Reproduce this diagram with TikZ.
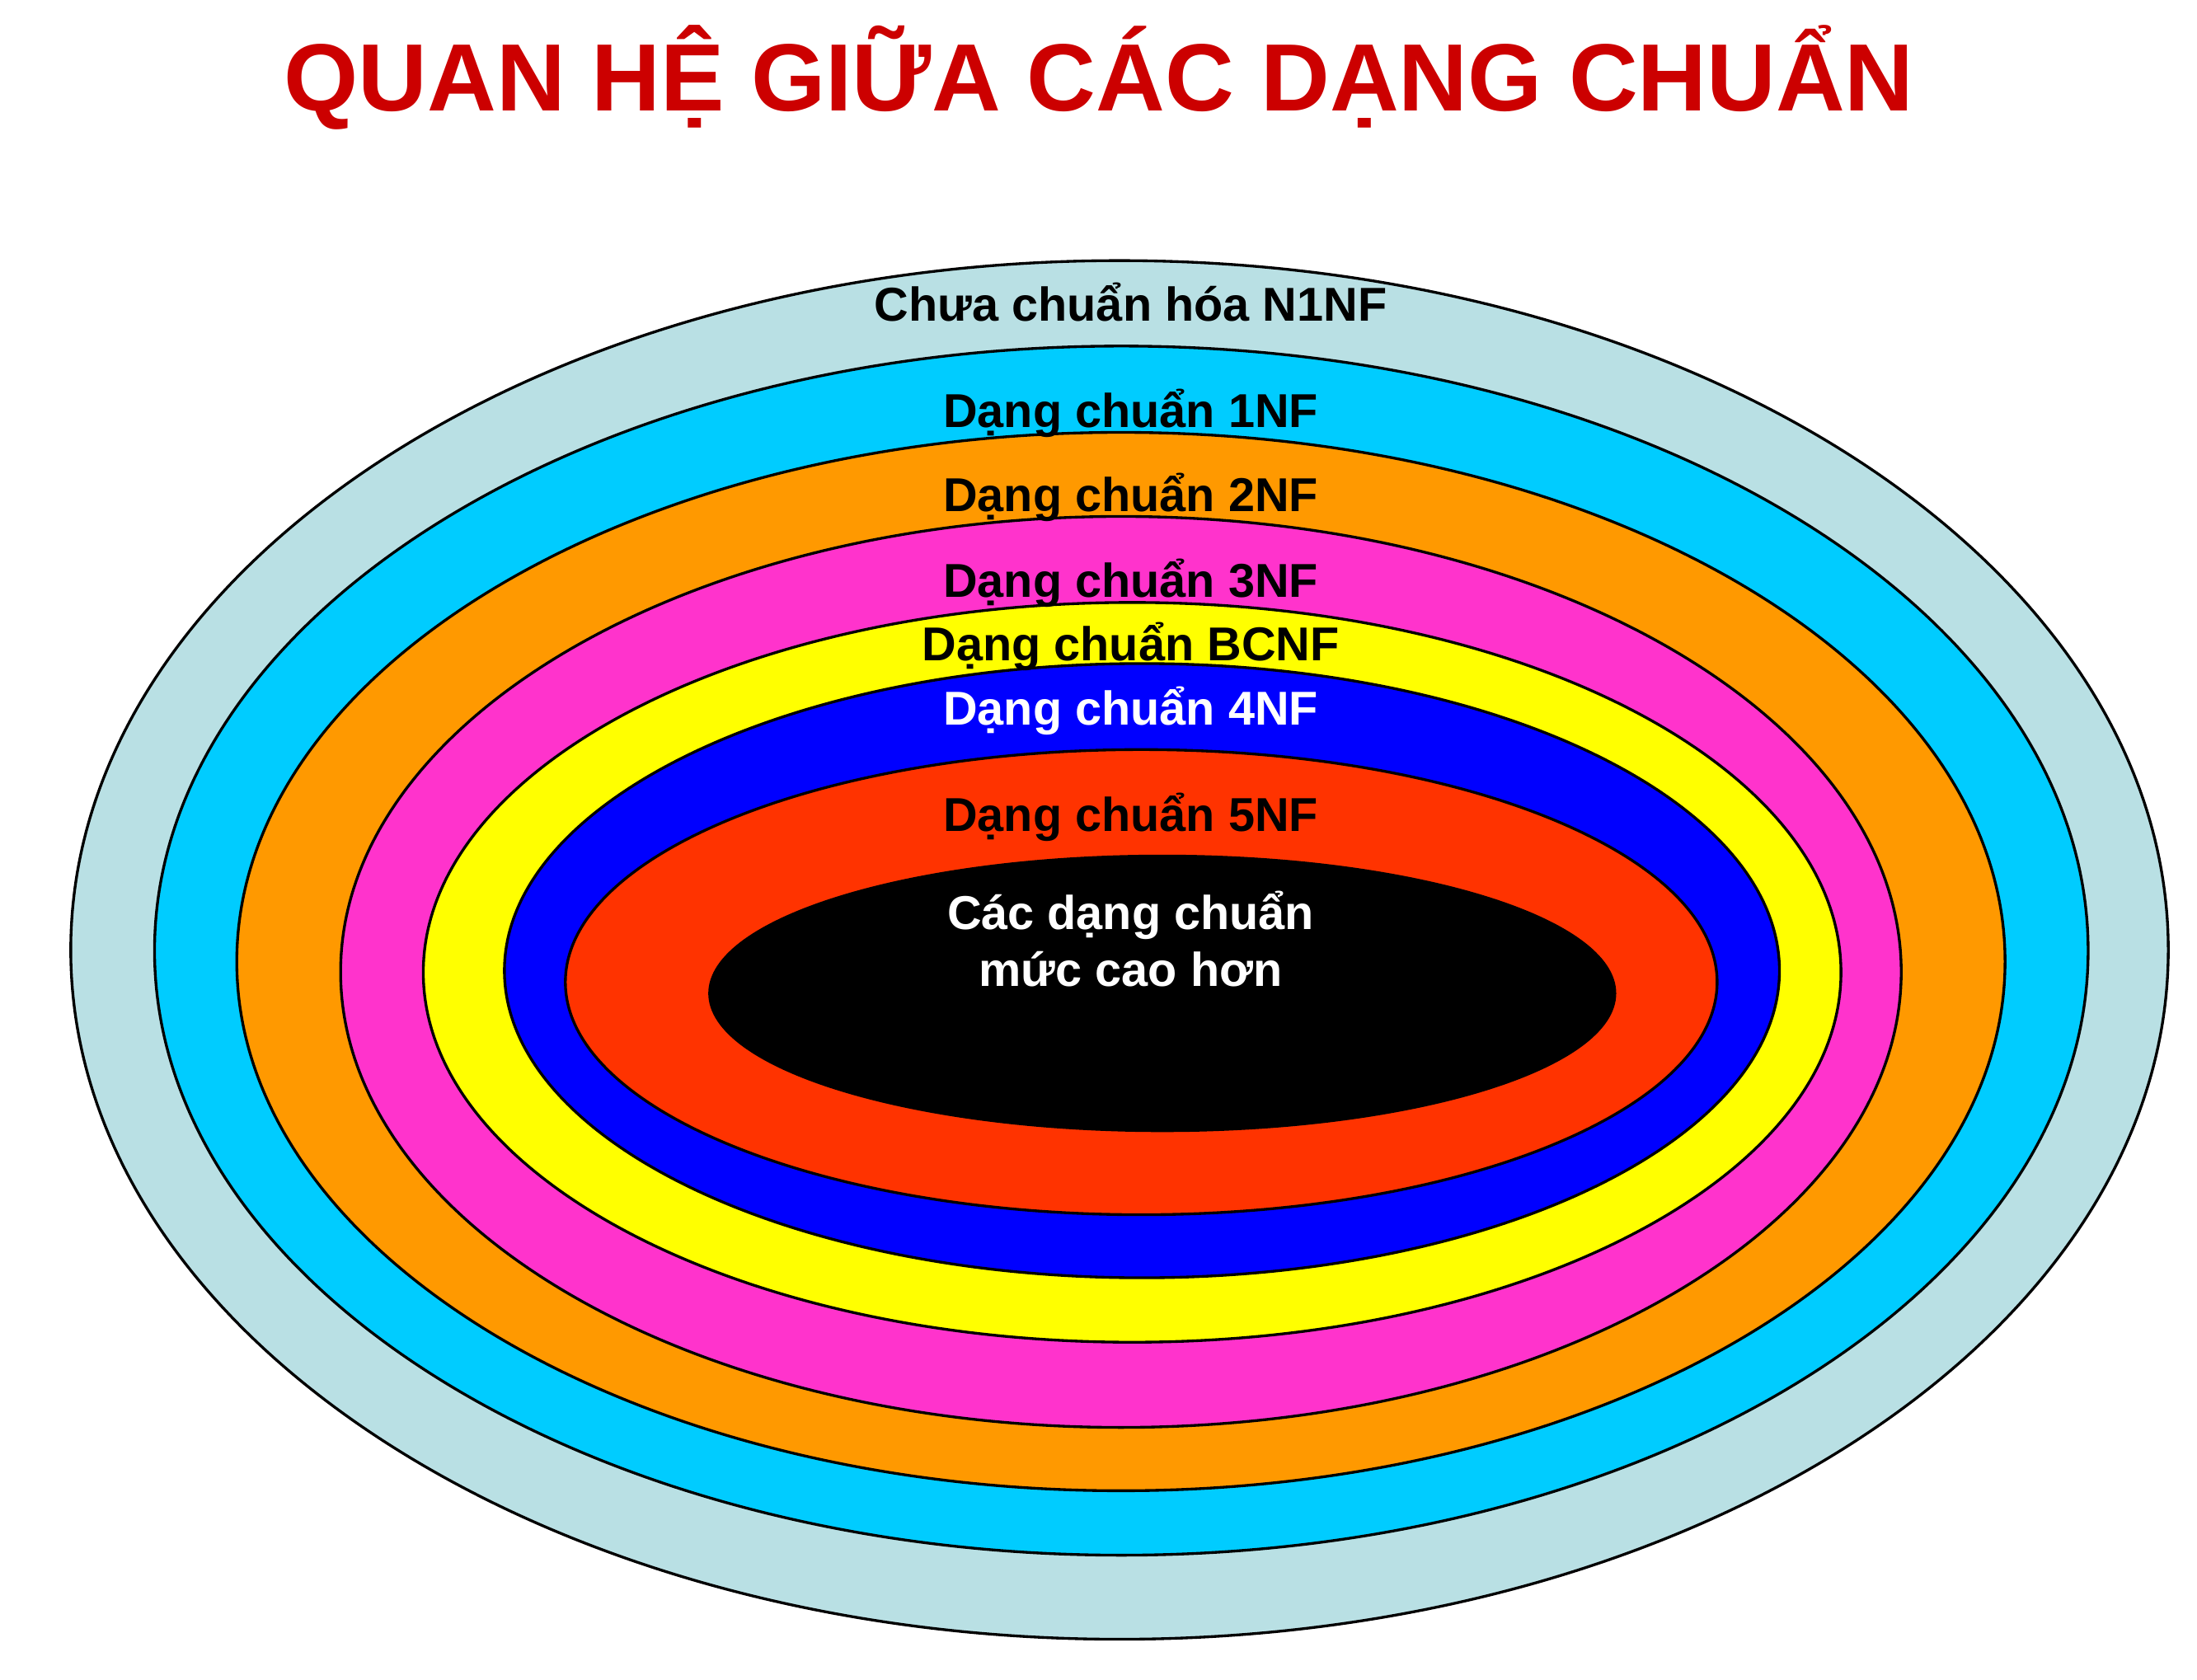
\documentclass[tikz,border=0pt]{standalone}
\usepackage{fontspec}
\setmainfont{Liberation Sans}
\usepackage{xcolor}
\usepackage{tikz}
\definecolor{titleRed}{RGB}{204,0,0}
\definecolor{paleTeal}{RGB}{185,224,228}
\definecolor{brightCyan}{RGB}{0,204,255}
\definecolor{deepOrange}{RGB}{255,153,0}
\definecolor{hotPink}{RGB}{255,51,204}
\definecolor{pureYellow}{RGB}{255,255,0}
\definecolor{pureBlue}{RGB}{0,0,255}
\definecolor{redOrange}{RGB}{255,51,0}
\tikzset{
  ring/.style={draw=black, line width=0.95pt},
  nflabel/.style={font=\fontsize{16.4}{19.8}\selectfont\bfseries, anchor=base, inner sep=0pt, align=center},
  titletext/.style={font=\fontsize{33}{40}\selectfont\bfseries, text=titleRed, anchor=base, inner sep=0pt}
}

\begin{document}
\begin{tikzpicture}[x=0.016996cm, y=-0.016996cm]
  \useasboundingbox (0,0) rectangle (1568,1199);
  % nested normal forms, outer to inner
  \draw[ring, fill=paleTeal]   (799,678)   ellipse [x radius=748.5, y radius=492];
  \draw[ring, fill=brightCyan] (800.3,678.5) ellipse [x radius=690, y radius=431.5];
  \draw[ring, fill=deepOrange] (800,686.3) ellipse [x radius=631, y radius=377.7];
  \draw[ring, fill=hotPink]    (800,693.7) ellipse [x radius=556.9, y radius=325.1];
  \draw[ring, fill=pureYellow] (808,694)   ellipse [x radius=505.9, y radius=264];
  \draw[ring, fill=pureBlue]   (815,692.8) ellipse [x radius=455, y radius=219.2];
  \draw[ring, fill=redOrange]  (814.5,701) ellipse [x radius=411, y radius=166];
  \fill[black]                 (829.5,709) ellipse [x radius=324, y radius=99];

  \node[titletext] (title) at (784.4,79.4) {QUAN HỆ GIỮA CÁC DẠNG CHUẨN};

  \node[nflabel] (n1nf) at (807,228.9) {Chưa chuẩn hóa N1NF};
  \node[nflabel] (nf1) at (807,304.8) {Dạng chuẩn 1NF};
  \node[nflabel] (nf2) at (807,365.2) {Dạng chuẩn 2NF};
  \node[nflabel] (nf3) at (807,426) {Dạng chuẩn 3NF};
  \node[nflabel] (bcnf) at (807,471.7) {Dạng chuẩn BCNF};
  \node[nflabel, text=white] (nf4) at (807,517.2) {Dạng chuẩn 4NF};
  \node[nflabel] (nf5) at (807,593.3) {Dạng chuẩn 5NF};
  % base of a two-line node sits on its last line
  \node[nflabel, text=white] (higher) at (807,704.1) {Các dạng chuẩn\\mức cao hơn};
\end{tikzpicture}
\end{document}
